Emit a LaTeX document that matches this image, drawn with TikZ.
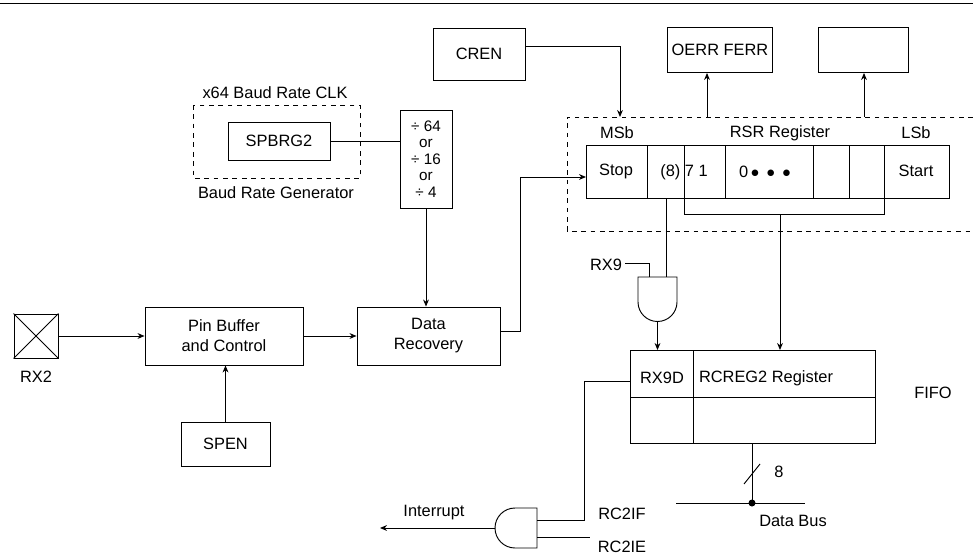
\documentclass[tikz,border=0pt]{standalone}
\usepackage{fontspec}
\setmainfont{Liberation Sans}
\usetikzlibrary{arrows.meta}
\begin{document}
\begin{tikzpicture}[x=0.03cm,y=-0.03cm,font=\fontsize{14}{17}\selectfont,
  box/.style={draw,thick,inner sep=0},
  dbox/.style={draw,thick,dashed,dash pattern=on 4pt off 4pt},
  ln/.style={thick},
  arr/.style={thick,-{Stealth[length=6pt,width=5pt]}},
  lbl/.style={inner sep=0}]
\useasboundingbox (0,0) rectangle (973,560);
\draw[ln] (0,3) -- (973,3);
% top boxes
\node[box,minimum width=92*0.03cm,minimum height=52*0.03cm] (cren) at (479,54) {CREN};
\node[box,minimum width=105*0.03cm,minimum height=45*0.03cm] (oerr) at (720,50) {OERR FERR};
\node[box,minimum width=90*0.03cm,minimum height=45*0.03cm] (emp) at (863,50) {};
% RSR dashed
\draw[dbox] (973,117) -- (567,117) -- (567,231) -- (973,231);
\node[lbl] (msb) at (617,133) {MSb};
\node[lbl] (rsrl) at (780,133) {RSR Register};
\node[lbl] (lsb) at (916,133) {LSb};
\draw[thick] (586,145) rectangle (949,198);
\foreach \x in {647,684,725,813,849,884} \draw[thick] (\x,145) -- (\x,198);
\node[lbl] (stop) at (616,171) {Stop};
\node[lbl] (b8) at (684,172) {(8) 7 1};
\node[lbl] (b0) at (765,172) {0\,$\bullet$\, $\bullet$\, $\bullet$};
\node[lbl] (start) at (916,171) {Start};
\coordinate (stopin) at (586,177);
\coordinate (rsrtop1) at (620,117);
\coordinate (rsrtop2) at (707,117);
\coordinate (rsrtop3) at (864,117);
\draw[arr] (cren.east|-0,46) -| (rsrtop1);
\draw[arr] (rsrtop2) -- (rsrtop2|-oerr.south);
\draw[arr] (rsrtop3) -- (rsrtop3|-emp.south);
% bracket
\draw[ln] (684,198) -- (684,214) -- (884,214) -- (884,198);
% RX9 and gate
\node[lbl] (rx9) at (606,265) {RX9};
\draw[ln] (625,263) -- (649,263) -- (649,277);
\draw[ln] (666,198) -- (666,277);
\draw[thick] (638,277) -- (638,302) arc[start angle=180,end angle=0,radius=19.5] -- (677,277) -- cycle;
\coordinate (g1out) at (657.5,321.5);
% RCREG
\draw[thick] (630,350) rectangle (875,443);
\draw[thick] (630,397) -- (875,397);
\draw[thick] (693,350) -- (693,443);
\node[lbl] (rx9d) at (662,378) {RX9D};
\node[lbl] (rcreg) at (766,378) {RCREG2 Register};
\node[lbl] (fifo) at (933,393) {FIFO};
\draw[arr] (g1out) -- (657.5,350);
\draw[arr] (780,214) -- (780,350);
% data bus
\draw[ln] (752,443) -- (752,503);
\draw[ln] (744,484) -- (760,464);
\node[lbl] (n8) at (779,472) {8};
\draw[ln] (676,503) -- (805,503);
\fill (752,503) circle (3.5);
\node[lbl] (dbus) at (793,521) {Data Bus};
% interrupt gate
\draw[thick] (537,508) -- (515,508) arc[start angle=-90,end angle=-270,radius=20] -- (537,548) -- cycle;
\draw[ln] (630,381) -- (584,381) -- (584,520) -- (537,520);
\draw[ln] (537,537) -- (590,537);
\node[lbl] (rc2if) at (622,514) {RC2IF};
\node[lbl] (rc2ie) at (622,547) {RC2IE};
\coordinate (intend) at (380,528);
\draw[arr] (495,528) -- (intend);
\node[lbl] (intl) at (434,513) {Interrupt};
% baud rate
\draw[dbox] (193,105) rectangle (360,178);
\node[lbl] (x64) at (275,93) {x64 Baud Rate CLK};
\node[box,minimum width=102*0.03cm,minimum height=38*0.03cm] (spbrg) at (279,141) {SPBRG2};
\node[lbl] (brg) at (276,193) {Baud Rate Generator};
\node[box,minimum width=52*0.03cm,minimum height=98*0.03cm,align=center,font=\fontsize{13}{14}\selectfont] (div) at (426,159) {÷ 64\\or\\÷ 16\\or\\÷ 4};
\draw[ln] (spbrg.east) -- (spbrg.east-|div.west);
% lower left
\node[box,minimum width=143*0.03cm,minimum height=58*0.03cm,align=center] (drec) at (428.5,336) {Data\\Recovery};
\node[box,minimum width=158*0.03cm,minimum height=58*0.03cm,align=center] (pin) at (224,336) {Pin Buffer\\and Control};
\node[box,minimum width=89*0.03cm,minimum height=44*0.03cm] (spen) at (225.5,444) {SPEN};
\node[box,minimum width=44*0.03cm,minimum height=44*0.03cm] (rx2) at (36,336) {};
\draw[thick] (rx2.north west) -- (rx2.south east) (rx2.north east) -- (rx2.south west);
\node[lbl] (rx2l) at (36,377) {RX2};
\draw[arr] (rx2.east) -- (pin.west);
\draw[arr] (pin.east) -- (drec.west);
\draw[arr] (spen.north) -- (pin.south-|spen.north);
\draw[arr] (div.south) -- (drec.north-|div.south);
\draw[arr] (drec.east|-0,331) -- (520,331) -- (520,177) -- (stopin);
\end{tikzpicture}
\end{document}
